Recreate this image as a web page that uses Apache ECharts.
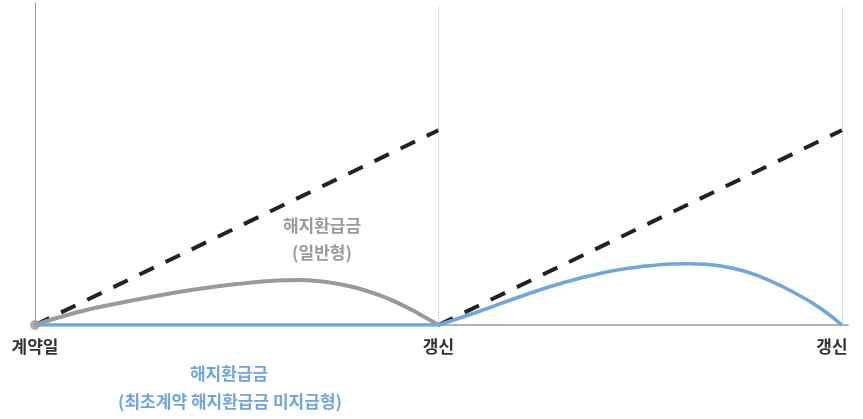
<!DOCTYPE html>
<html>
<head>
<meta charset="utf-8">
<script src="https://cdn.jsdelivr.net/npm/echarts@6/dist/echarts.min.js"></script>
<style>
html,body{margin:0;padding:0;background:#fff;}
#chart{width:863px;height:419px;}
</style>
</head>
<body>
<div id="chart"></div>
<script>
// x = years from contract date, renewal at 10 and 20; y = relative amount
var tickLabels = {0: '계약일', 10: '갱신', 20: '갱신'};
var renewals = [10, 20];
var premiumLine1 = [[0, 0], [10, 60.5]];
var premiumLine2 = [[10, 0], [20, 60.5]];
var generalRefund = [[0, 0], [1, 3.8], [2, 6.6], [3, 9.0], [4, 11.1], [5, 12.7], [6, 13.8], [6.5, 14.0], [7, 13.7], [7.5, 12.8], [8, 11.4], [8.5, 9.4], [9, 6.8], [9.5, 3.6], [10, 0]];
var noRefundFirst = [[0, 0], [10, 0]];
var noRefundSecond = [[10, 0], [11, 4.2], [12, 8.7], [13, 12.8], [14, 16.0], [15, 18.1], [16.2, 19.0], [16.6, 18.85], [17, 18.3], [17.5, 17.0], [18, 14.9], [18.5, 12.1], [19, 8.8], [19.5, 4.9], [20, 0]];
var originPoint = [[0, 0]];
var grayLabel = ['해지환급금', '(일반형)'];
var blueLabel = ['해지환급금', '(최초계약 해지환급금 미지급형)'];

var GRAY = '#9a9a9a', BLUE = '#6ea6dd', DARK = '#222';
var FONT = '"Noto Sans CJK KR", "Noto Sans", sans-serif';

var chart = echarts.init(document.getElementById('chart'));
chart.setOption({
  animation: false,
  grid: {left: 35, right: 15, top: 3, bottom: 94},
  xAxis: {
    type: 'value', min: 0, max: 20.15, interval: 10,
    axisLine: {show: true, lineStyle: {color: '#9a9a9a', width: 1.5}},
    axisTick: {show: false},
    splitLine: {show: false},
    axisLabel: {
      margin: 13, showMaxLabel: false,
      color: '#333', fontSize: 17, fontWeight: 'bold', fontFamily: FONT,
      formatter: function (v) {
        if (v === 20) return '{r|' + tickLabels[v] + '}';
        return tickLabels[v] || '';
      },
      rich: {r: {color: '#333', fontSize: 17, fontWeight: 'bold', fontFamily: FONT, padding: [0, 20, 0, 0]}}
    }
  },
  yAxis: {
    type: 'value', min: 0, max: 100,
    axisLine: {show: true, lineStyle: {color: '#9a9a9a', width: 1}},
    axisTick: {show: false}, axisLabel: {show: false}, splitLine: {show: false}
  },
  series: [
    {
      type: 'line', data: premiumLine1, symbol: 'none', z: 2,
      lineStyle: {color: DARK, width: 4, type: [16, 13]},
      markLine: {
        silent: true, symbol: 'none', label: {show: false},
        lineStyle: {color: '#bbb', width: 1, type: 'dotted'},
        data: renewals.map(function (r) { return [{coord: [r, 0]}, {coord: [r, 99]}]; })
      }
    },
    {type: 'line', data: premiumLine2, symbol: 'none', z: 2, lineStyle: {color: DARK, width: 4, type: [16, 13]}},
    {type: 'line', data: generalRefund, symbol: 'none', smooth: 0.5, z: 3, lineStyle: {color: GRAY, width: 4}},
    {type: 'line', data: noRefundFirst, symbol: 'none', z: 4, lineStyle: {color: BLUE, width: 3.5}},
    {type: 'line', data: noRefundSecond, symbol: 'none', smooth: 0.5, z: 4, lineStyle: {color: BLUE, width: 3.5}},
    {type: 'scatter', data: originPoint, symbolSize: 10, z: 6, itemStyle: {color: GRAY}}
  ],
  graphic: [
    {type: 'text', z: 10, style: {text: grayLabel[0], x: 322, y: 226, textAlign: 'center', textVerticalAlign: 'middle', fill: GRAY, font: 'bold 17px ' + FONT}},
    {type: 'text', z: 10, style: {text: grayLabel[1], x: 322, y: 253, textAlign: 'center', textVerticalAlign: 'middle', fill: GRAY, font: 'bold 17px ' + FONT}},
    {type: 'text', z: 10, style: {text: blueLabel[0], x: 229, y: 374, textAlign: 'center', textVerticalAlign: 'middle', fill: BLUE, font: 'bold 17px ' + FONT}},
    {type: 'text', z: 10, style: {text: blueLabel[1], x: 230, y: 402, textAlign: 'center', textVerticalAlign: 'middle', fill: BLUE, font: 'bold 17px ' + FONT}}
  ]
});
</script>
</body>
</html>
